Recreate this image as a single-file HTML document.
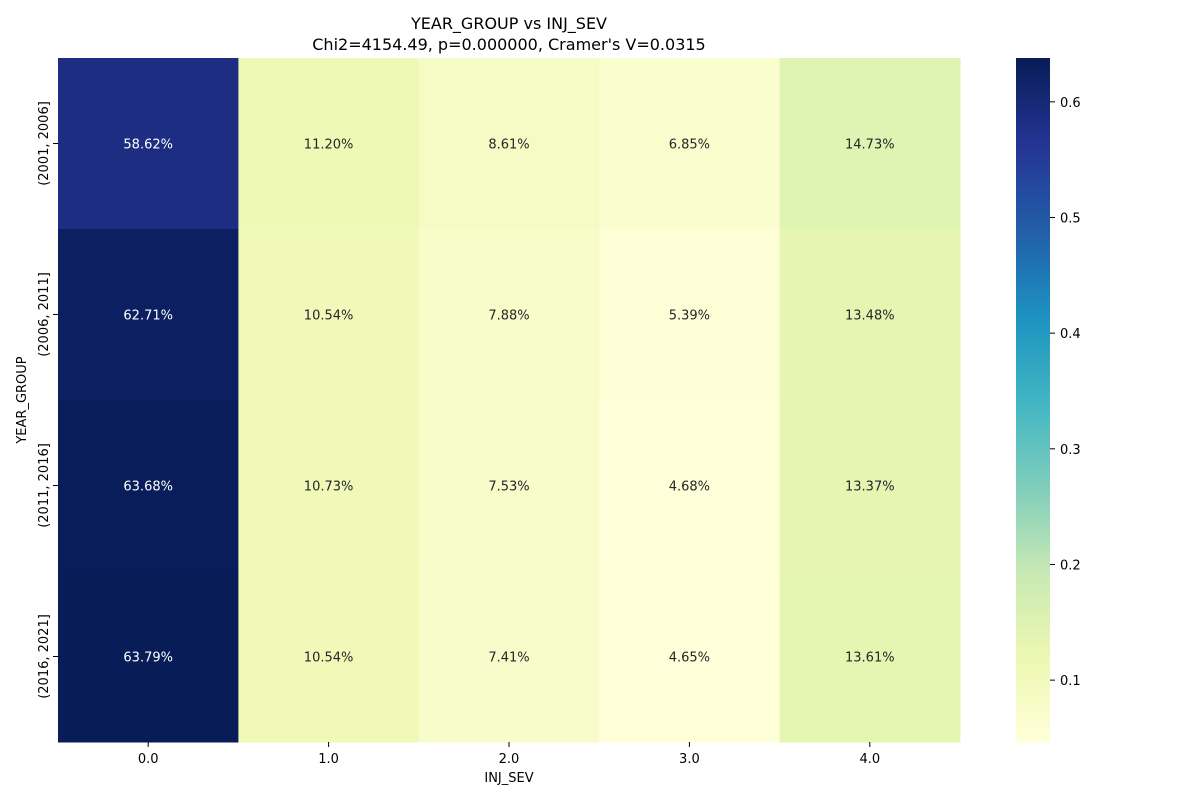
<!DOCTYPE html>
<html><head><meta charset="utf-8"><style>
body{margin:0;background:#fff;font-family:"Liberation Sans","DejaVu Sans",sans-serif}
</style></head><body>
<svg id="chart" width="1200" height="800" xmlns="http://www.w3.org/2000/svg" font-family="DejaVu Sans, Liberation Sans, sans-serif">
<text x="509" y="29" text-anchor="middle" font-size="16">YEAR_GROUP vs INJ_SEV</text>
<text x="509" y="50" text-anchor="middle" font-size="16">Chi2=4154.49, p=0.000000, Cramer's V=0.0315</text>
<text x="509" y="782" text-anchor="middle" font-size="13">INJ_SEV</text>
<text transform="translate(26,400) rotate(-90)" text-anchor="middle" font-size="13">YEAR_GROUP</text>
<g id="cells"></g><g id="cbar"></g>
</svg>
<script>
const cols=["0.0","1.0","2.0","3.0","4.0"];
const rows=["(2001, 2006]","(2006, 2011]","(2011, 2016]","(2016, 2021]"];
const r0=[0.5862,0.1120,0.0861,0.0685,0.1473];
const r1=[0.6271,0.1054,0.0788,0.0539,0.1348];
const r2=[0.6368,0.1073,0.0753,0.0468,0.1337];
const r3=[0.6379,0.1054,0.0741,0.0465,0.1361];
const values=[r0,r1,r2,r3];
const cbTicks=[0.1,0.2,0.3,0.4,0.5,0.6];
const vmin=0.0465,vmax=0.6379;
const X0=58,X1=960,Y0=58,Y1=742,CBX=1016,CBW=34;
const stops=["#ffffd9","#edf8b1","#c7e9b4","#7fcdbb","#41b6c4","#1d91c0","#225ea8","#253494","#081d58"];
function hex(h){return[1,3,5].map(i=>parseInt(h.substr(i,2),16));}
function color(v){let t=Math.max(0,Math.min(1,(v-vmin)/(vmax-vmin)))*(stops.length-1);let i=Math.min(Math.floor(t),stops.length-2),f=t-i;let a=hex(stops[i]),b=hex(stops[i+1]);return"rgb("+a.map((c,k)=>Math.round(c+(b[k]-c)*f)).join(",")+")";}
const xs=i=>X0+i*(X1-X0)/cols.length, cw=(X1-X0)/cols.length;
const ys=j=>Y0+j*(Y1-Y0)/rows.length, rh=(Y1-Y0)/rows.length;
const cy=v=>Y1-(v-vmin)/(vmax-vmin)*(Y1-Y0);
const NS="http://www.w3.org/2000/svg";
function mk(tag,at,parent){const e=document.createElementNS(NS,tag);for(const k in at)e.setAttribute(k,at[k]);parent.appendChild(e);return e;}
const g=document.getElementById("cells"),svg=document.getElementById("chart");
values.forEach((row,j)=>row.forEach((v,i)=>{
 const r=mk("rect",{x:xs(i),y:ys(j),width:cw+0.5,height:rh+0.5,fill:color(v)},g);
 
 
 const t=mk("text",{x:xs(i)+cw/2,y:ys(j)+rh/2+5,"text-anchor":"middle","font-size":13,fill:(v-vmin)/(vmax-vmin)>0.5?"#fff":"#262626"},g);
 t.textContent=(v*100).toFixed(2)+"%";
 
 
}));
cols.forEach((c,i)=>{
 mk("line",{x1:xs(i)+cw/2,x2:xs(i)+cw/2,y1:Y1,y2:Y1+5,stroke:"#000"},svg);
 const t=mk("text",{x:xs(i)+cw/2,y:Y1+21,"text-anchor":"middle","font-size":13},svg);t.textContent=c;
 
 
});
rows.forEach((r,j)=>{
 const y=ys(j)+rh/2;
 mk("line",{x1:X0-5,x2:X0,y1:y,y2:y,stroke:"#000"},svg);
 const t=mk("text",{transform:`translate(${X0-10},${y}) rotate(-90)`,"text-anchor":"middle","font-size":13},svg);t.textContent=r;
 
 
});
const cb=document.getElementById("cbar");
const N=200;
for(let k=0;k<N;k++){const v0=vmin+(vmax-vmin)*k/N,v1=vmin+(vmax-vmin)*(k+1)/N;
 mk("rect",{x:CBX,y:cy(v1),width:CBW,height:cy(v0)-cy(v1)+0.6,fill:color((v0+v1)/2)},cb);}


cbTicks.forEach(v=>{
 const y=cy(v);
 mk("line",{x1:CBX+CBW,x2:CBX+CBW+5,y1:y,y2:y,stroke:"#000"},svg);
 const t=mk("text",{x:CBX+CBW+10,y:y+5,"font-size":13},svg);t.textContent=v.toFixed(1);
 
 
});
</script>
</body></html>
